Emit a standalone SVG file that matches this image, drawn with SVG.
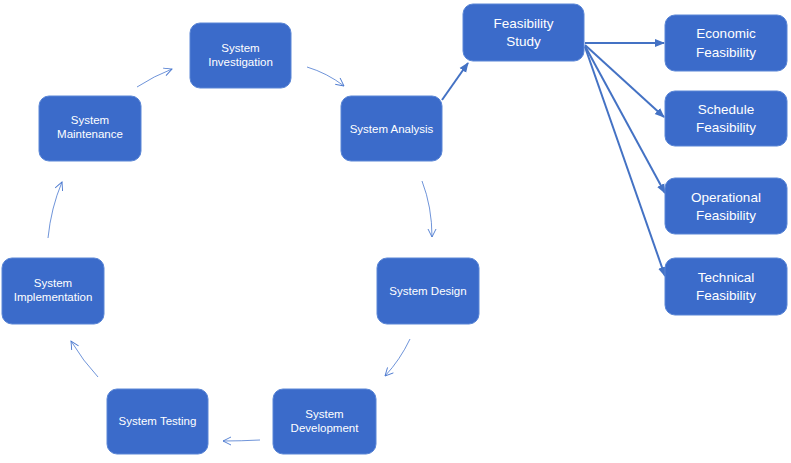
<svg xmlns="http://www.w3.org/2000/svg" width="791" height="463" viewBox="0 0 791 463">
<style>
.box{fill:#3b6bca;stroke:#5a86d6;stroke-width:1}
.t{fill:#fff;font-family:"Liberation Sans",Arial,sans-serif;font-size:11.5px;text-anchor:middle}
.tb{fill:#fff;font-family:"Liberation Sans",Arial,sans-serif;font-size:13.5px;text-anchor:middle}
.thin{fill:none;stroke:#4a78cf;stroke-width:0.8}
.thick{fill:none;stroke:#4472c4;stroke-width:2}
</style>
<defs>
<marker id="open" viewBox="0 0 10 10" refX="9" refY="5" markerWidth="10" markerHeight="10" markerUnits="userSpaceOnUse" orient="auto">
<path d="M1,1 L9,5 L1,9" fill="none" stroke="#4a78cf" stroke-width="0.9"/>
</marker>
<marker id="solid" viewBox="0 0 10 10" refX="9" refY="5" markerWidth="10" markerHeight="10" markerUnits="userSpaceOnUse" orient="auto">
<path d="M0,1 L10,5 L0,9 Z" fill="#4472c4"/>
</marker>
</defs>
<g id="connectors">
<path class="thin" d="M137,87 Q154,76 172,69" marker-end="url(#open)"/>
<path class="thin" d="M307,67 Q327,73 344,86" marker-end="url(#open)"/>
<path class="thin" d="M422,181 Q432,207 432,237" marker-end="url(#open)"/>
<path class="thin" d="M410,339 Q400,360 385,376" marker-end="url(#open)"/>
<path class="thin" d="M260,440 Q241,441 223,441" marker-end="url(#open)"/>
<path class="thin" d="M98,377 Q83,361 71,341" marker-end="url(#open)"/>
<path class="thin" d="M48,238 Q51,208 62,182" marker-end="url(#open)"/>
<path class="thick" d="M442,100 L468,63" marker-end="url(#solid)"/>
<path class="thick" d="M585,43 L664,43" marker-end="url(#solid)"/>
<path class="thick" d="M585,45 L664,117" marker-end="url(#solid)"/>
<path class="thick" d="M585,46 L665,193" marker-end="url(#solid)"/>
<path class="thick" d="M585,47 L665,276" marker-end="url(#solid)"/>
</g>
<g id="system-investigation"><rect class="box" x="190" y="23" width="101" height="65" rx="10"/><text class="t" x="240.5" y="52">System</text><text class="t" x="240.5" y="66">Investigation</text></g>
<g id="system-analysis"><rect class="box" x="341" y="96" width="101" height="65" rx="10"/><text class="t" x="391.5" y="132.5">System Analysis</text></g>
<g id="system-design"><rect class="box" x="377" y="258" width="102" height="66" rx="10"/><text class="t" x="428" y="295">System Design</text></g>
<g id="system-development"><rect class="box" x="273" y="389" width="103" height="65" rx="10"/><text class="t" x="324.5" y="418">System</text><text class="t" x="324.5" y="432">Development</text></g>
<g id="system-testing"><rect class="box" x="107" y="389" width="101" height="65" rx="10"/><text class="t" x="157.5" y="425">System Testing</text></g>
<g id="system-implementation"><rect class="box" x="2" y="258" width="102" height="66" rx="10"/><text class="t" x="53" y="287">System</text><text class="t" x="53" y="301">Implementation</text></g>
<g id="system-maintenance"><rect class="box" x="39" y="96" width="102" height="65" rx="10"/><text class="t" x="90" y="124">System</text><text class="t" x="90" y="138">Maintenance</text></g>
<g id="feasibility-study"><rect class="box" x="463" y="4" width="121" height="57" rx="10"/><text class="tb" x="523.5" y="28">Feasibility</text><text class="tb" x="523.5" y="46">Study</text></g>
<g id="economic-feasibility"><rect class="box" x="665" y="15" width="122" height="56" rx="10"/><text class="tb" x="726" y="38">Economic</text><text class="tb" x="726" y="57">Feasibility</text></g>
<g id="schedule-feasibility"><rect class="box" x="665" y="91" width="122" height="55" rx="10"/><text class="tb" x="726" y="114">Schedule</text><text class="tb" x="726" y="132">Feasibility</text></g>
<g id="operational-feasibility"><rect class="box" x="665" y="178" width="122" height="56" rx="10"/><text class="tb" x="726" y="202">Operational</text><text class="tb" x="726" y="220">Feasibility</text></g>
<g id="technical-feasibility"><rect class="box" x="665" y="258" width="122" height="57" rx="10"/><text class="tb" x="726" y="282">Technical</text><text class="tb" x="726" y="300">Feasibility</text></g>
</svg>
